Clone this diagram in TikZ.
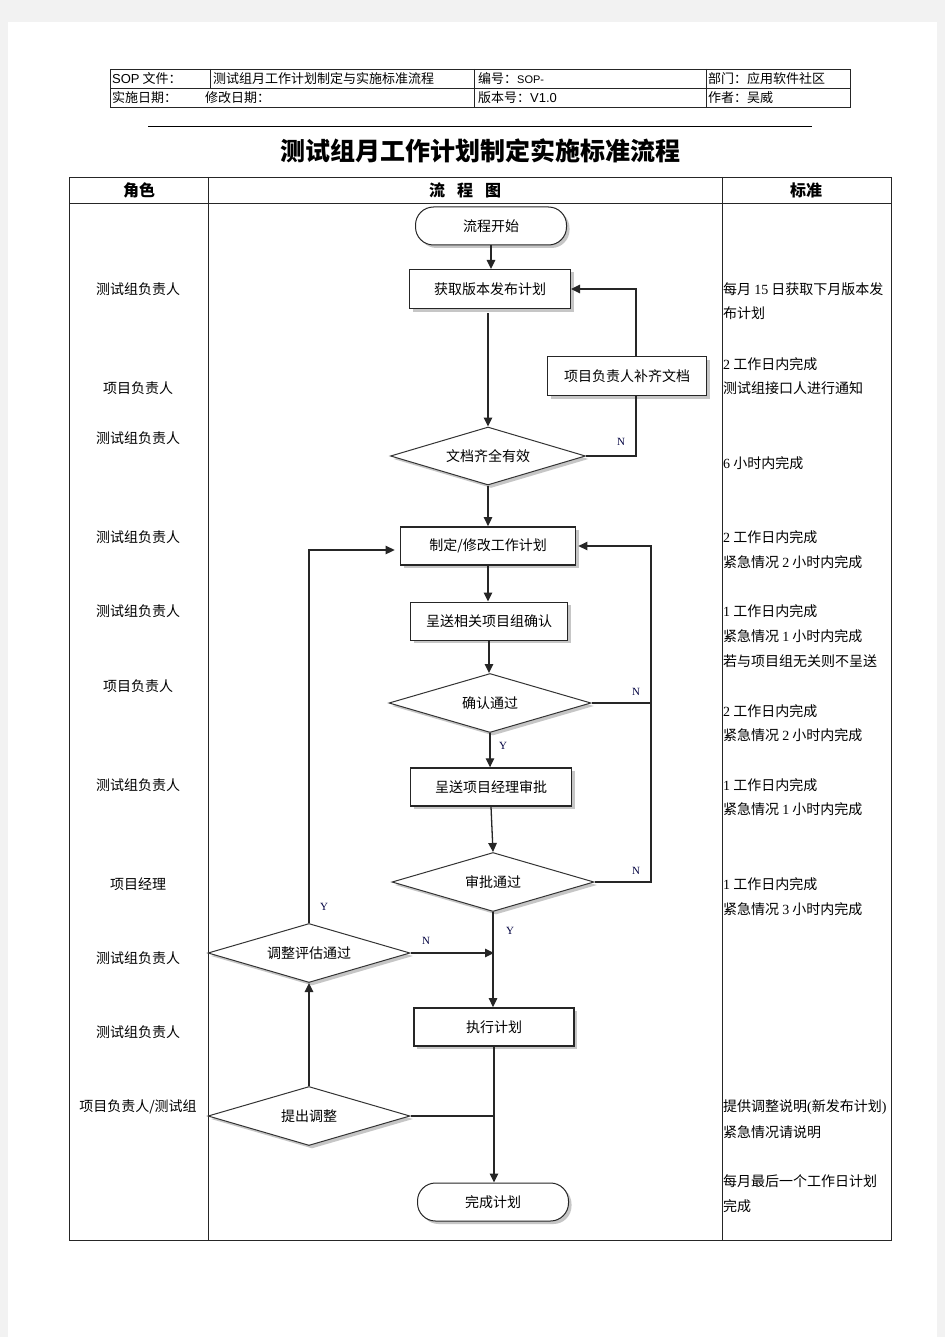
\documentclass[tikz,border=0pt]{standalone}
\usepackage{fontspec}
\setmainfont{Noto Sans CJK SC}
\newfontfamily\numf{Liberation Serif}
\newfontfamily\latf{Liberation Sans}
\usetikzlibrary{shapes.geometric,arrows.meta,shadows,calc}
\begin{document}
\begin{tikzpicture}[x=1pt,y=-1pt,
  every node/.style={inner sep=0pt,font=\fontsize{14}{16}\selectfont},
  tline/.style={draw=black!85,line width=0.9pt},
  shad/.style={drop shadow={shadow xshift=3pt,shadow yshift=-3pt,fill=black!28,opacity=0.8}},
  box/.style={draw=black!85,line width=1pt,fill=white,shape=rectangle,shad},
  boxb/.style={box,line width=1.8pt},
  term/.style={draw=black!85,line width=1pt,fill=white,rounded corners=18pt,minimum width=151,minimum height=38,shad},
  dia/.style={draw=black!80,line width=1pt,fill=white,shape=diamond,aspect=3.4,minimum width=202,minimum height=59,shad},
  flow/.style={draw=black!85,line width=1.3pt},
  arr/.style={flow,-{Triangle[length=9pt,width=8.5pt]}},
  yn/.style={font=\numf\fontsize{11}{12}\selectfont,text=black!75!blue},
  role/.style={anchor=center},
  std/.style={anchor=west},
  hdr/.style={anchor=west,font=\fontsize{13}{14}\selectfont},
]
% page background
\useasboundingbox (0,0) rectangle (945,1337);
\fill[black!5] (0,0) rectangle (945,1337);
\fill[white] (8,22) rectangle (937,1337);

% ---------- header table ----------
\draw[tline] (110,69) rectangle (850,107);
\draw[tline] (110,88) -- (850,88);
\draw[tline] (210,69) -- (210,88);
\draw[tline] (474,69) -- (474,107);
\draw[tline] (706,69) -- (706,107);
\node[hdr] (h1) at (112,79) {{\latf SOP} 文件：};
\node[hdr] (h2) at (213,79) {测试组月工作计划制定与实施标准流程};
\node[hdr] (h3) at (478,79) {编号：{\latf\fontsize{11}{12}\selectfont SOP-}};
\node[hdr] (h4) at (708,79) {部门：应用软件社区};
\node[hdr] (h5) at (112,98) {实施日期：};
\node[hdr] (h6) at (205,98) {修改日期：};
\node[hdr] (h7) at (478,98) {版本号：{\latf V1.0}};
\node[hdr] (h8) at (708,98) {作者：吴威};

\draw[line width=1pt] (148,127) -- (812,127);
\node[font=\bfseries\fontsize{25}{28}\selectfont] (title) at (480,151) {测试组月工作计划制定实施标准流程};

% ---------- main table ----------
\draw[tline] (69,177) rectangle (891,1240);
\draw[tline] (69,203) -- (891,203);
\draw[tline] (208,177) -- (208,1240);
\draw[tline] (722,177) -- (722,1240);
\node[font=\bfseries\fontsize{16}{18}\selectfont] (c1) at (139,190) {角色};
\node[font=\bfseries\fontsize{16}{18}\selectfont] (c2) at (465,190) {流\hspace{12pt}程\hspace{12pt}图};
\node[font=\bfseries\fontsize{16}{18}\selectfont] (c3) at (806,190) {标准};

% roles
\node[role] (r1) at (138,289) {测试组负责人};
\node[role] (r2) at (138,388) {项目负责人};
\node[role] (r3) at (138,438) {测试组负责人};
\node[role] (r4) at (138,537) {测试组负责人};
\node[role] (r5) at (138,611) {测试组负责人};
\node[role] (r6) at (138,686) {项目负责人};
\node[role] (r7) at (138,785) {测试组负责人};
\node[role] (r8) at (138,884) {项目经理};
\node[role] (r9) at (138,958) {测试组负责人};
\node[role] (r10) at (138,1032) {测试组负责人};
\node[role] (r11) at (138,1107) {项目负责人/测试组};

% standards
\node[std] (s1) at (723,289) {每月 {\numf 15} 日获取下月版本发};
\node[std] (s1b) at (723,313) {布计划};
\node[std] (s2) at (723,364) {{\numf 2} 工作日内完成};
\node[std] (s2b) at (723,388) {测试组接口人进行通知};
\node[std] (s3) at (723,463) {{\numf 6} 小时内完成};
\node[std] (s4) at (723,537) {{\numf 2} 工作日内完成};
\node[std] (s4b) at (723,562) {紧急情况 {\numf 2} 小时内完成};
\node[std] (s5) at (723,611) {{\numf 1} 工作日内完成};
\node[std] (s5b) at (723,636) {紧急情况 {\numf 1} 小时内完成};
\node[std] (s5c) at (723,661) {若与项目组无关则不呈送};
\node[std] (s6) at (723,711) {{\numf 2} 工作日内完成};
\node[std] (s6b) at (723,735) {紧急情况 {\numf 2} 小时内完成};
\node[std] (s7) at (723,785) {{\numf 1} 工作日内完成};
\node[std] (s7b) at (723,809) {紧急情况 {\numf 1} 小时内完成};
\node[std] (s8) at (723,884) {{\numf 1} 工作日内完成};
\node[std] (s8b) at (723,909) {紧急情况 {\numf 3} 小时内完成};
\node[std] (s9) at (723,1107) {提供调整说明{\numf (}新发布计划{\numf )}};
\node[std] (s9b) at (723,1132) {紧急情况请说明};
\node[std] (s10) at (723,1181) {每月最后一个工作日计划};
\node[std] (s10b) at (723,1206) {完成};

% ---------- flow nodes ----------
\node[term] (start) at (491,226) {流程开始};
\node[box,minimum width=161,minimum height=39] (get) at (490,289) {获取版本发布计划};
\node[box,minimum width=159,minimum height=39] (supp) at (627,376) {项目负责人补齐文档};
\node[dia,minimum width=195,minimum height=58] (doc) at (488,456) {文档齐全有效};
\node[boxb,minimum width=175,minimum height=38] (plan) at (488,546) {制定/修改工作计划};
\node[box,minimum width=157,minimum height=38] (send) at (489,621) {呈送相关项目组确认};
\node[dia] (conf) at (490,703) {确认通过};
\node[box,line width=1.4pt,minimum width=161,minimum height=38] (mgr) at (491,787) {呈送项目经理审批};
\node[dia] (appr) at (493,882) {审批通过};
\node[dia] (eval) at (309,953) {调整评估通过};
\node[boxb,minimum width=160,minimum height=38] (exec) at (494,1027) {执行计划};
\node[dia] (prop) at (309,1116) {提出调整};
\node[term] (end) at (493,1202) {完成计划};

\coordinate (j1) at (636,456);
\coordinate (j2) at (651,703);
\coordinate (pl) at ($(plan.west)+(-5,4)$);

% ---------- connectors ----------
\draw[arr] (start.south) -- (start.south |- get.north);
\draw[arr] ($(doc.north |- get.south)+(0,4)$) -- (doc.north);
\draw[flow] (doc.east) -- (j1) -- (j1 |- supp.south);
\draw[arr] (j1 |- supp.north) -- (j1 |- get.east) -- (get.east);
\node[yn] (n1) at (621,442) {N};
\draw[arr] (doc.south) -- (plan.north);
\draw[arr] (plan.south) -- (plan.south |- send.north);
\draw[arr] (send.south) -- (send.south |- conf.north);
\draw[flow] (conf.east) -- (j2);
\draw[arr] (j2) -- (j2 |- plan.east) -- ($(plan.east)+(2,0)$);
\node[yn] (n2) at (636,692) {N};
\draw[arr] (conf.south) -- (conf.south |- mgr.north);
\node[yn] (y1) at (503,746) {Y};
\draw[arr] (mgr.south) -- (appr.north);
\draw[flow] (appr.east) -- (appr.east -| j2) -- (j2);
\node[yn] (n3) at (636,871) {N};
\draw[arr] (appr.south) -- (appr.south |- exec.north);
\node[yn] (y2) at (510,931) {Y};
\draw[arr] (eval.east) -- (eval.east -| exec.north);
\node[yn] (n4) at (426,941) {N};
\draw[arr] (eval.north) -- (eval.north |- pl) -- (pl);
\node[yn] (y3) at (324,907) {Y};
\draw[arr] (prop.north) -- (eval.south);
\draw[flow] (prop.east) -- (prop.east -| exec.south);
\draw[arr] (exec.south) -- (exec.south |- end.north);
\end{tikzpicture}
\end{document}
